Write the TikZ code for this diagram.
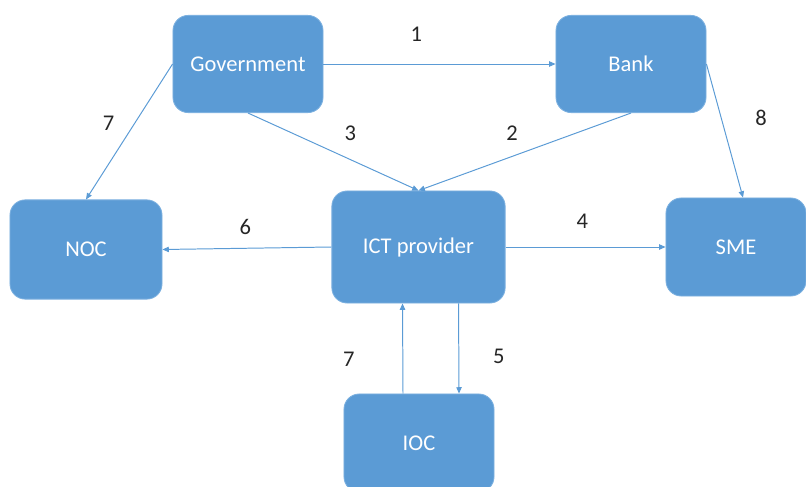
\documentclass[tikz,border=0pt]{standalone}
\usepackage{fontspec}
\setmainfont{Carlito}
\usetikzlibrary{arrows.meta, positioning, calc}
\definecolor{boxblue}{HTML}{5B9BD5}
\definecolor{edgeblue}{HTML}{7DB1E0}
\tikzset{
  every node/.style={font=\fontsize{16}{19}\selectfont},
  org/.style={
    draw=edgeblue, line width=0.6pt, rounded corners=3.8mm, fill=boxblue,
    minimum width=37.5mm, minimum height=24.3mm, inner sep=0pt,
    align=center, text=white
  },
  num/.style={text=black!85, inner sep=0pt},
  arr/.style={-{Triangle[length=4.5pt,width=3.8pt]}, line width=0.7pt, boxblue},
}
\begin{document}
\begin{tikzpicture}[x=0.025cm, y=-0.025cm]
  \useasboundingbox (0,0) rectangle (806,486);
  % nodes
  \node[org] (gov) at (248,64) {Government};
  \node[org] (bank) at (631,64) {Bank};
  \node[org, minimum width=38mm, minimum height=24.8mm] (noc) at (86,249.5) {NOC};
  \node[org, minimum width=43.3mm, minimum height=28mm] (ict) at (418.5,247) {ICT provider};
  \node[org, minimum width=35mm, minimum height=24.5mm] (sme) at (736,247) {SME};
  \node[org, minimum height=24.5mm] (ioc) at (419,443) {IOC};
  % arrows
  \draw[arr] (gov.east) -- node[num, pos=.4, above=16pt] {1} (bank.west);
  \draw[arr] (bank.south) -- node[num, pos=.56, above=11pt] {2} (ict.north);
  \draw[arr] (gov.south) -- node[num, pos=.6, above=13pt] {3} (ict.north);
  \draw[arr] (ict.east) -- node[num, pos=.48, above=13pt] {4} (sme.west);
  \draw[arr] ([xshift=10mm]ict.south) -- node[num, pos=.59, right=24pt] {5} ([xshift=10mm]ioc.north);
  \draw[arr] (ict.west) -- node[num, pos=.51, above=9pt] {6} (noc.east);
  \draw[arr] ([xshift=-4mm]ioc.north) -- node[num, pos=.38, left=34pt] {7} ([xshift=-4mm]ict.south);
  \draw[arr] (gov.west) -- node[num, pos=.44, left=14pt] {7} (noc.north);
  \draw[arr] (bank.east) -- node[num, pos=.4, right=24pt] {8} ([xshift=1.75mm]sme.north);
\end{tikzpicture}
\end{document}
